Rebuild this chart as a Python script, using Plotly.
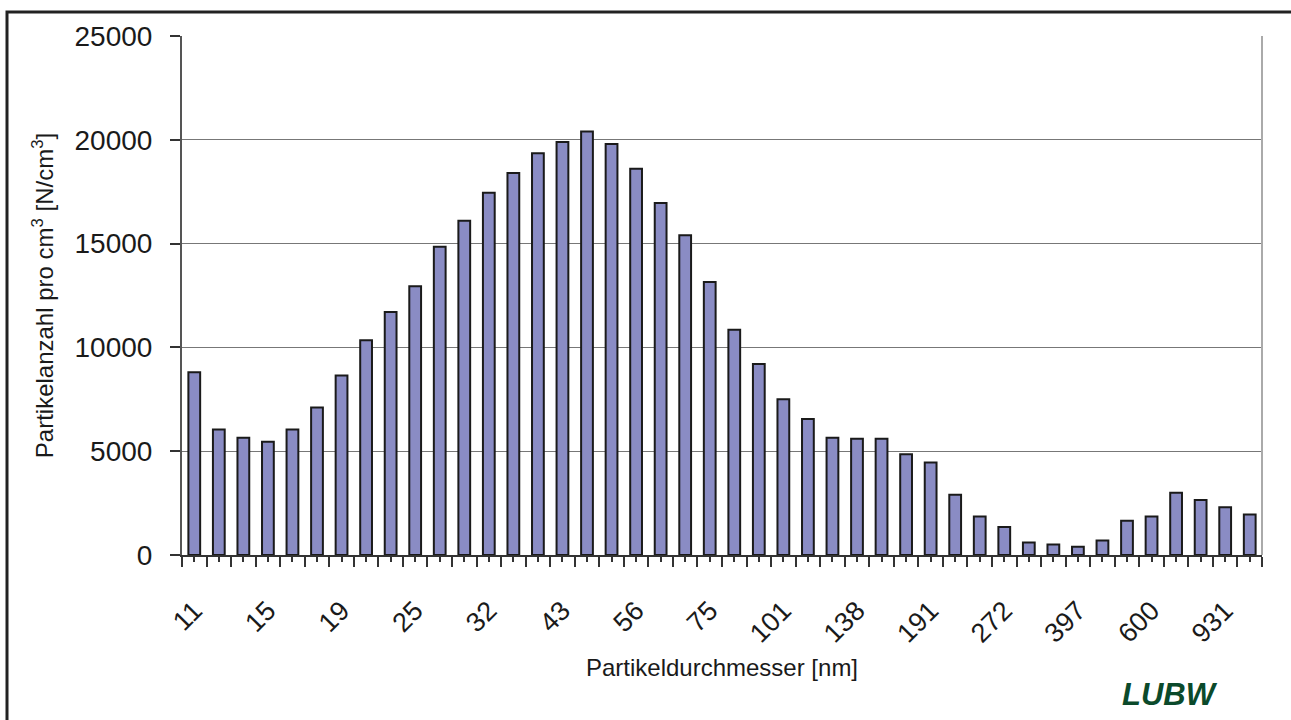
import plotly.graph_objects as go

# Particle counts per size channel (44 channels)
counts = [8800, 6050, 5650, 5450, 6050, 7100, 8650, 10350, 11700, 12950,
          14850, 16100, 17450, 18400, 19350, 19900, 20400, 19800, 18600, 16950,
          15400, 13150, 10850, 9200, 7500, 6550, 5650, 5600, 5600, 4850,
          4450, 2900, 1850, 1350, 600, 500, 400, 700, 1650, 1850,
          3000, 2650, 2300, 1950]

# Diameter labels shown on the x axis (every third channel)
shown_labels = ["11", "15", "19", "25", "32", "43", "56", "75", "101", "138",
                "191", "272", "397", "600", "931"]
label_step = 3

n = len(counts)
positions = list(range(n))
ticktext = []
for i in positions:
    k = i // label_step
    ticktext.append(shown_labels[k] if i % label_step == 0 and k < len(shown_labels) else "")

fig = go.Figure()
fig.add_trace(go.Bar(
    x=positions, y=counts,
    marker=dict(color="#8a8cc4", line=dict(color="#1a1a1a", width=2)),
    width=0.48,
    hoverinfo="y",
))

L, R, T, B = 182, 29, 36, 165
W, H = 1291, 720
pw, ph = W - L - R, H - T - B

fig.update_layout(
    width=W, height=H,
    margin=dict(l=L, r=R, t=T, b=B),
    paper_bgcolor="white", plot_bgcolor="white",
    showlegend=False,
    font=dict(family="Liberation Sans, Arial, sans-serif", color="#1a1a1a"),
    xaxis=dict(
        range=[-0.5, n - 0.5],
        tickmode="array", tickvals=positions, ticktext=ticktext,
        tickangle=-45, tickfont=dict(size=27),
        ticks="outside", ticklen=5, tickcolor="#333", tickwidth=1.5,
        ticklabelstandoff=22,
        minor=dict(tickmode="array", tickvals=[i - 0.5 for i in range(n + 1)],
                   ticks="outside", ticklen=10, tickcolor="#333", tickwidth=1.5),
        showline=True, linecolor="#333", linewidth=2,
        showgrid=False, zeroline=False,
        title=dict(text="Partikeldurchmesser [nm]", font=dict(size=24), standoff=12),
    ),
    yaxis=dict(
        range=[0, 25000], dtick=5000, tickmode="linear", tick0=0,
        tickformat="d", exponentformat="none",
        tickfont=dict(size=28),
        ticks="outside", ticklen=10, tickcolor="#333", tickwidth=1.5,
        ticklabelstandoff=12,
        showline=True, linecolor="#555", linewidth=2,
        showgrid=True, gridcolor="#777", gridwidth=1.2,
        zeroline=False,
        title=dict(text="Partikelanzahl pro cm<sup>3</sup> [N/cm<sup>3</sup>]",
                   font=dict(size=24), standoff=14),
    ),
)

# outer frame of the chart (cropped on the right and bottom)
fig.add_shape(type="rect", xref="paper", yref="paper",
              x0=(7 - L) / pw, x1=(W + 20 - L) / pw,
              y0=(H - B - (H + 20)) / ph, y1=(H - B - 12) / ph,
              line=dict(color="#222", width=3), layer="below")
# right border of plot area
fig.add_shape(type="line", xref="paper", yref="paper", x0=1, x1=1, y0=0, y1=1,
              line=dict(color="#aaa", width=2))

fig.add_annotation(text="<b><i>LUBW</i></b>", xref="paper", yref="paper",
                   x=(1170 - L) / pw, y=(H - B - 694) / ph,
                   showarrow=False, xanchor="center", yanchor="middle",
                   font=dict(size=31, color="#0b4a2b",
                             family="Liberation Sans Narrow, Arial Narrow, Liberation Sans, sans-serif"))

fig.write_html("out.html", config={"displayModeBar": False},
               post_script="document.body.style.margin='0';document.body.style.overflow='hidden';")
